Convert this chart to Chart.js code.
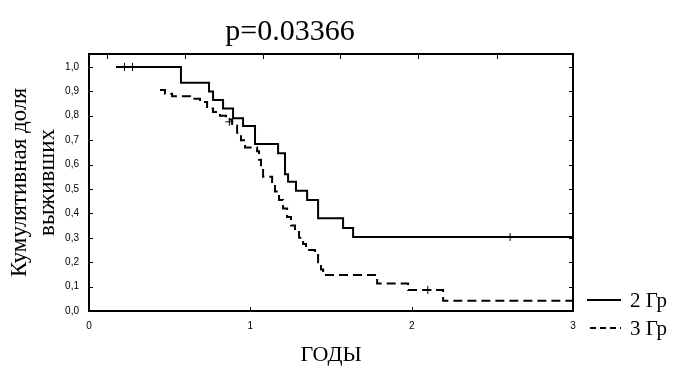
<!DOCTYPE html>
<html>
<head>
<meta charset="utf-8">
<script src="https://cdn.jsdelivr.net/npm/chart.js@4.4.1/dist/chart.umd.min.js"></script>
<style>
  html, body { margin: 0; padding: 0; background: #fff; }
  #wrap { width: 682px; height: 372px; }
</style>
</head>
<body>
<div id="wrap"><canvas id="survChart"></canvas></div>
<script>
// Kaplan-Meier curves (years -> cumulative survival)
const group2Times = [0.167, 0.57, 0.744, 0.769, 0.831, 0.893, 0.955, 1.029, 1.172, 1.215, 1.234, 1.283, 1.352, 1.42, 1.575, 1.637, 3.0];
const group2Surv  = [1.0, 0.935, 0.899, 0.865, 0.83, 0.79, 0.758, 0.684, 0.646, 0.56, 0.53, 0.493, 0.455, 0.38, 0.34, 0.303, 0.303];
const group2CensorTimes = [0.22, 0.27, 2.61];
const group2CensorSurv  = [1.0, 1.0, 0.303];

const group3Times = [0.44, 0.471, 0.515, 0.626, 0.688, 0.732, 0.769, 0.812, 0.849, 0.887, 0.918, 0.942, 0.967, 1.042, 1.054, 1.066, 1.079, 1.135, 1.153, 1.178, 1.203, 1.228, 1.252, 1.277, 1.302, 1.327, 1.345, 1.401, 1.42, 1.438, 1.451, 1.786, 1.978, 2.195, 3.0];
const group3Surv  = [0.905, 0.89, 0.88, 0.87, 0.856, 0.83, 0.815, 0.80, 0.785, 0.76, 0.73, 0.70, 0.67, 0.655, 0.62, 0.585, 0.55, 0.52, 0.49, 0.455, 0.42, 0.385, 0.35, 0.33, 0.30, 0.275, 0.25, 0.235, 0.20, 0.17, 0.147, 0.113, 0.086, 0.042, 0.042];
const group3CensorTimes = [0.87, 2.1];
const group3CensorSurv  = [0.775, 0.086];

const seriesLabels = ["2 Гр", "3 Гр"];
const xTickValues = [0, 1, 2, 3];
const yTickValues = [0, 0.1, 0.2, 0.3, 0.4, 0.5, 0.6, 0.7, 0.8, 0.9, 1.0];
const topTickValues = [0.112, 0.595, 1.078, 1.556, 2.04, 2.53];
const pValueText = "p=0.03366";
const xTitle = "ГОДЫ";
const yTitle = ["Кумулятивная доля", "выживших"];

const serif = "'Liberation Serif', 'Times New Roman', serif";
const sans = "'Liberation Sans', Arial, sans-serif";

const toPoints = (xs, ys) => xs.map((x, i) => ({ x, y: ys[i] }));

// box round the plot with inward ticks
const framePlugin = {
  id: "frame",
  afterDraw(chart) {
    const { ctx, chartArea: a, scales } = chart;
    ctx.save();
    ctx.strokeStyle = "#000";
    ctx.lineWidth = 2;
    ctx.strokeRect(a.left, a.top, a.right - a.left, a.bottom - a.top);
    ctx.lineWidth = 1;
    ctx.beginPath();
    yTickValues.forEach(v => {
      const y = Math.round(scales.y.getPixelForValue(v)) + 0.5;
      ctx.moveTo(a.left, y); ctx.lineTo(a.left + 4, y);
      ctx.moveTo(a.right, y); ctx.lineTo(a.right - 4, y);
    });
    xTickValues.forEach(v => {
      const x = Math.round(scales.x.getPixelForValue(v)) + 0.5;
      ctx.moveTo(x, a.bottom); ctx.lineTo(x, a.bottom - 4);
    });
    topTickValues.forEach(v => {
      const x = Math.round(scales.x.getPixelForValue(v)) + 0.5;
      ctx.moveTo(x, a.top); ctx.lineTo(x, a.top + 5);
    });
    ctx.stroke();
    ctx.restore();
  }
};

// p-value over the plot and the legend at lower right
const labelsPlugin = {
  id: "labels",
  afterDraw(chart) {
    const { ctx, chartArea: a } = chart;
    ctx.save();
    ctx.fillStyle = "#000";
    ctx.textBaseline = "middle";
    ctx.textAlign = "center";
    ctx.font = "30px " + serif;
    ctx.fillText(pValueText, 290, 32);

    const ds = chart.data.datasets;
    const rows = [a.bottom - 11, a.bottom + 17];
    ctx.textAlign = "left";
    ctx.font = "21px " + serif;
    ds.slice(0, 2).forEach((d, i) => {
      ctx.strokeStyle = d.borderColor;
      ctx.lineWidth = 2;
      ctx.setLineDash(i === 0 ? [] : [6, 4]);
      ctx.beginPath();
      ctx.moveTo(a.right + (i === 0 ? 14 : 17), rows[i]);
      ctx.lineTo(a.right + 48, rows[i]);
      ctx.stroke();
      ctx.fillText(d.label, a.right + 57, rows[i] + 1);
    });
    ctx.restore();
  }
};

new Chart(document.getElementById("survChart"), {
  type: "scatter",
  data: {
    datasets: [
      {
        label: seriesLabels[0],
        data: toPoints(group2Times, group2Surv),
        showLine: true,
        stepped: "before",
        borderColor: "#000",
        borderWidth: 2,
        pointRadius: 0
      },
      {
        label: seriesLabels[1],
        data: toPoints(group3Times, group3Surv),
        showLine: true,
        stepped: "before",
        borderColor: "#000",
        borderWidth: 2,
        borderDash: [9, 5],
        pointRadius: 0
      },
      {
        label: "censored 2",
        data: toPoints(group2CensorTimes, group2CensorSurv),
        borderColor: "#000",
        borderWidth: 1,
        pointStyle: ["line", "line", "cross"],
        pointRotation: [90, 90, 0],
        pointRadius: 4
      },
      {
        label: "censored 3",
        data: toPoints(group3CensorTimes, group3CensorSurv),
        borderColor: "#000",
        borderWidth: 1,
        pointStyle: "cross",
        pointRadius: 4
      }
    ]
  },
  options: {
    responsive: true,
    maintainAspectRatio: false,
    animation: false,
    layout: { padding: { top: 54, right: 109, left: 0, bottom: 0 } },
    plugins: {
      legend: { display: false },
      tooltip: { enabled: false },
      title: { display: false }
    },
    scales: {
      x: {
        type: "linear",
        min: 0,
        max: 3,
        afterFit(scale) { scale.height = 61; },
        afterBuildTicks(scale) { scale.ticks = xTickValues.map(v => ({ value: v })); },
        grid: { display: false, drawTicks: false },
        border: { display: false },
        ticks: {
          color: "#000",
          padding: 9,
          maxRotation: 0,
          font: { family: sans, size: 10 },
          callback: v => String(v)
        },
        title: {
          display: true,
          text: xTitle,
          color: "#000",
          font: { family: serif, size: 22 },
          padding: { top: 0, bottom: 4 }
        }
      },
      y: {
        type: "linear",
        min: 0,
        max: 1.053,
        afterFit(scale) { scale.width = 89; },
        afterBuildTicks(scale) { scale.ticks = yTickValues.map(v => ({ value: v })); },
        grid: { display: false, drawTicks: false },
        border: { display: false },
        ticks: {
          color: "#000",
          padding: 10,
          font: { family: sans, size: 10 },
          callback: v => v.toFixed(1).replace(".", ",")
        },
        title: {
          display: true,
          text: yTitle,
          color: "#000",
          font: { family: serif, size: 23, lineHeight: "28px" },
          padding: { top: 6, bottom: 0 }
        }
      }
    }
  },
  plugins: [framePlugin, labelsPlugin]
});
</script>
</body>
</html>
